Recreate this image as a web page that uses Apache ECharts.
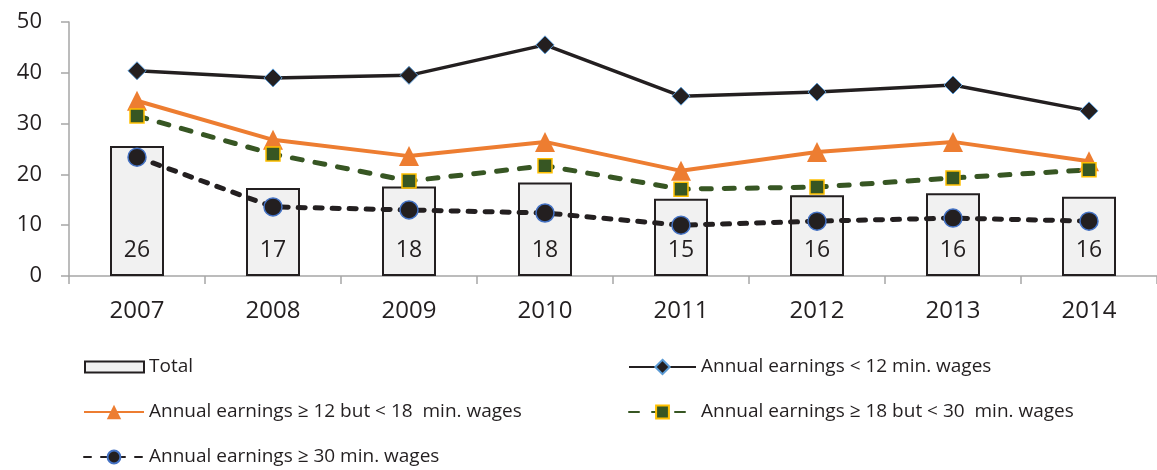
<!DOCTYPE html>
<html><head><meta charset="utf-8">
<script src="https://cdn.jsdelivr.net/npm/echarts@6/dist/echarts.min.js"></script>
<style>html,body{margin:0;padding:0;background:#fff}#c{width:1157px;height:470px}</style>
</head><body><div id="c"></div>
<script>
const years = ['2007','2008','2009','2010','2011','2012','2013','2014'];
const total = [25.6, 17.3, 17.6, 18.4, 15.2, 15.9, 16.3, 15.6];
const lt12 = [40.4, 39.0, 39.5, 45.5, 35.4, 36.2, 37.6, 32.5];
const b12_18 = [34.5, 26.8, 23.6, 26.4, 20.7, 24.4, 26.4, 22.6];
const b18_30 = [31.5, 24.0, 18.7, 21.7, 17.1, 17.5, 19.3, 20.9];
const ge30 = [23.4, 13.6, 13.0, 12.4, 10.0, 10.8, 11.4, 10.8];
const names = ['Total','Annual earnings < 12 min. wages','Annual earnings \u2265 12 but < 18  min. wages','Annual earnings \u2265 18 but < 30  min. wages','Annual earnings \u2265 30 min. wages'];
const yTicks = [0,10,20,30,40,50];

const FONT = '"Open Sans", "Noto Sans", sans-serif';
const TXT = '#231f20';
const chart = echarts.init(document.getElementById('c'), null, {renderer:'canvas'});
const legendText = {fontSize: 19, color: TXT, fontFamily: FONT, lineHeight: 20};
function leg(name, left, cy, w, h, icon) {
  const o = {data: [name], left: left, top: cy - 10, itemWidth: w, itemHeight: h, itemGap: 0, padding: 0,
          textStyle: legendText, selectedMode: false};
  if (icon) o.icon = icon;
  return o;
}
chart.setOption({
  animation: false,
  grid: {left: 69, right: -4, top: 22, bottom: 194, containLabel: false},
  legend: [
    leg(names[0], 84, 367, 59, 11, 'rect'),
    leg(names[2], 83, 412, 60, 18),
    leg(names[4], 83, 457, 60, 16),
    leg(names[1], 628, 367, 67, 18),
    leg(names[3], 628, 412, 67, 16)
  ],
  xAxis: {
    type: 'category', data: years, boundaryGap: true,
    axisLine: {lineStyle: {color: '#a6a6a6', width: 1.5}},
    axisTick: {show: true, length: 8, alignWithLabel: false, lineStyle: {color: '#a6a6a6', width: 1.5}},
    axisLabel: {fontSize: 24, color: TXT, fontFamily: FONT, margin: 23}
  },
  yAxis: {
    type: 'value', min: yTicks[0], max: yTicks[yTicks.length-1], interval: 10,
    splitLine: {show: false},
    axisLine: {show: true, lineStyle: {color: '#a6a6a6', width: 1.5}},
    axisTick: {show: true, length: 8, lineStyle: {color: '#a6a6a6', width: 1.5}},
    axisLabel: {fontSize: 22, color: TXT, fontFamily: FONT, margin: 27}
  },
  series: [
    {name: names[0], type: 'bar', data: total, barWidth: 54, z: 1,
     itemStyle: {color: '#f1f1f1', borderColor: TXT, borderWidth: 2},
     label: {show: true, position: 'insideBottom', distance: 14, fontSize: 23, color: TXT, fontFamily: FONT,
             formatter: p => Math.round(p.value)}},
    {name: names[1], type: 'line', data: lt12, symbol: 'diamond', symbolSize: 18, z: 5,
     lineStyle: {color: TXT, width: 3.5},
     itemStyle: {color: TXT, borderColor: '#5b9bd5', borderWidth: 1}},
    {name: names[2], type: 'line', data: b12_18, symbol: 'triangle', symbolSize: 20, z: 4,
     lineStyle: {color: '#ed7d31', width: 4},
     itemStyle: {color: '#ed7d31', borderWidth: 0}},
    {name: names[3], type: 'line', data: b18_30, symbol: 'rect', symbolSize: 14, z: 4,
     lineStyle: {color: '#375623', width: 5, type: [10, 13], cap: 'round'},
     itemStyle: {color: '#375623', borderColor: '#ffc000', borderWidth: 1.5}},
    {name: names[4], type: 'line', data: ge30, symbol: 'circle', symbolSize: 18, z: 4,
     lineStyle: {color: TXT, width: 5, type: [7, 10], cap: 'round'},
     itemStyle: {color: TXT, borderColor: '#4472c4', borderWidth: 1.5}}
  ]
});
</script></body></html>
